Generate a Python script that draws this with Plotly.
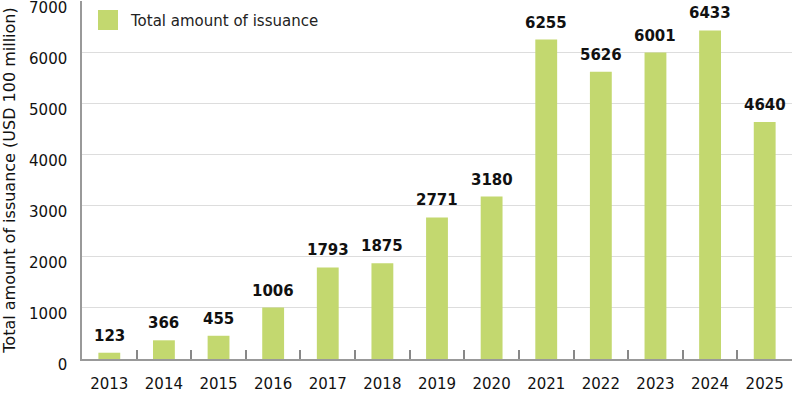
import plotly.graph_objects as go

years = ["2013", "2014", "2015", "2016", "2017", "2018", "2019",
         "2020", "2021", "2022", "2023", "2024", "2025"]
issuance = [123, 366, 455, 1006, 1793, 1875, 2771, 3180, 6255, 5626, 6001, 6433, 4640]
y_ticks = [0, 1000, 2000, 3000, 4000, 5000, 6000, 7000]

series_name = "Total amount of issuance"
y_title = "Total amount of issuance (USD 100 million)"
bar_color = "#c3d86f"
font_family = "DejaVu Sans, sans-serif"

W, H = 800, 397
L, R, T, B = 82, 8, 1, 38

fig = go.Figure()
fig.add_trace(go.Bar(
    x=years, y=issuance, marker_color=bar_color, marker_line_width=0,
    name=series_name, showlegend=False, width=0.4,
))

for i, v in enumerate(issuance):
    fig.add_annotation(
        x=i, y=v, text=str(v), showarrow=False, yanchor="middle", yshift=17,
        font=dict(family=font_family, size=15, color="#111", weight="bold"),
    )

# legend drawn as square + text
pw = W - L - R
ph = H - T - B
def px_x(x):
    return (x - L) / pw
def px_y(y):
    return (H - B - y) / ph

fig.add_shape(type="rect", xref="paper", yref="paper",
              x0=px_x(98), x1=px_x(118), y0=px_y(30), y1=px_y(10),
              fillcolor=bar_color, line_width=0)
fig.add_annotation(xref="paper", yref="paper", x=px_x(128), y=px_y(21),
                   xanchor="left", yanchor="middle", showarrow=False,
                   text=series_name,
                   font=dict(family=font_family, size=15, color="#222"))

fig.update_layout(
    width=W, height=H,
    margin=dict(l=L, r=R, t=T, b=B),
    plot_bgcolor="white", paper_bgcolor="white",
    font=dict(family=font_family, color="#111"),
    showlegend=False,
    xaxis=dict(
        type="category", range=[-0.5, len(years) - 0.5], automargin=False,
        showgrid=False, showline=True, linecolor="#999",
        linewidth=1.5, ticks="inside", tickson="boundaries", ticklen=9,
        tickcolor="#888", tickwidth=1.5, ticklabelstandoff=10,
        tickfont=dict(size=15, color="#111"),
    ),
    yaxis=dict(
        range=[0, 7010], tickvals=y_ticks, showgrid=True, gridcolor="#dddddd",
        gridwidth=1, showline=True, linecolor="#999", linewidth=1.5,
        ticks="", zeroline=False, ticklabelshift=6, ticklabelstandoff=10,
        ticklabeloverflow="allow", automargin=False,
        tickfont=dict(size=15, color="#111"),
        title=dict(text=y_title, standoff=10,
                   font=dict(size=16, color="#111")),
    ),
)

fig.write_html("out.html")
